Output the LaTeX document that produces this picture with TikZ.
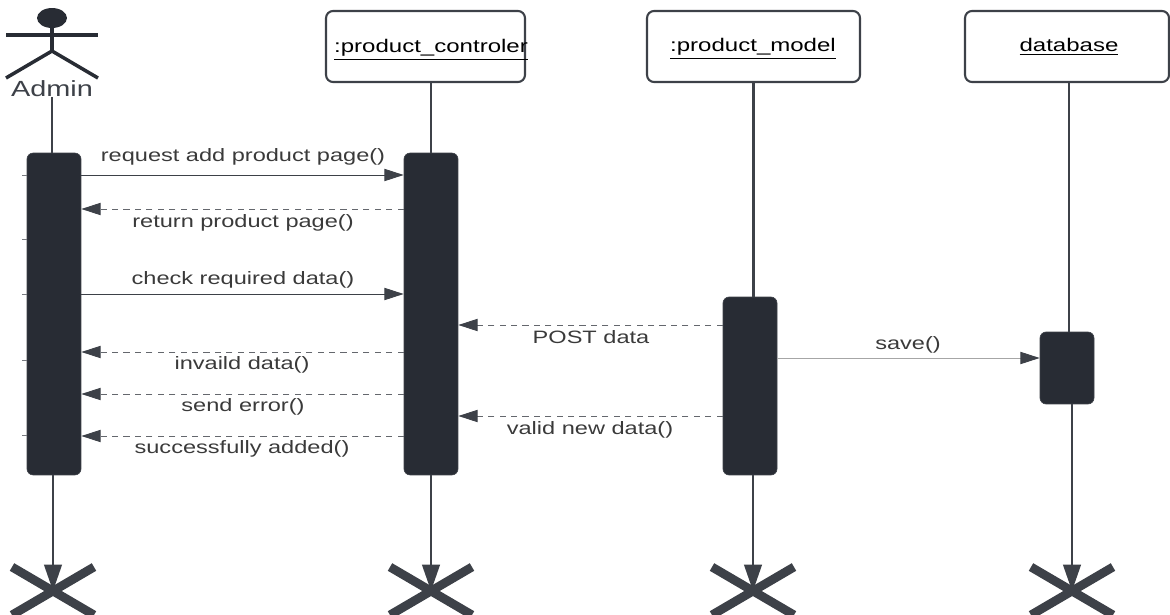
\documentclass[tikz,border=0pt]{standalone}
\usepackage{fontspec}
\setmainfont[FakeStretch=1.315]{Liberation Sans}
\usepackage{xcolor}
\usetikzlibrary{arrows.meta,shapes.geometric}
\definecolor{barcol}{HTML}{282C34}
\definecolor{linecol}{HTML}{3D4148}
\definecolor{txtcol}{HTML}{3A3A3A}
\tikzset{
  objbox/.style={draw=linecol,line width=1.2pt,fill=white,rounded corners=4pt,inner sep=0pt},
  objtxt/.style={text=black,inner sep=0pt,font=\fontsize{10.4}{12}\selectfont},
  actbar/.style={draw=linecol,fill=barcol,rounded corners=3.5pt,minimum width=1.08cm,inner sep=0pt},
  lifeline/.style={draw=linecol,line width=1.4pt},
  msg/.style={draw=linecol,line width=0.5pt,-{Triangle[length=11pt,width=7pt,color=linecol]}},
  retmsg/.style={msg,draw=linecol!80,dash pattern=on 3.5pt off 3pt},
  msgtxt/.style={text=txtcol,inner sep=0pt,font=\fontsize{10.2}{12}\selectfont},
  endcross/.style={draw=linecol,line width=5pt},
  stick/.style={draw=barcol,line width=2pt}
}
\begin{document}
\begin{tikzpicture}[x=0.02cm,y=-0.02cm]
\useasboundingbox (0,0) rectangle (1170,615);
\clip (0,0) rectangle (1170,615);

%objects
\node [objbox,minimum width=3.98cm,minimum height=1.42cm] (ctrlbox) at (425.5,46.5) {};
\node [objtxt] (ctrllabel) at (431,50) {\underline{:product\_controler}};
\node [objbox,minimum width=4.26cm,minimum height=1.42cm] (modelbox) at (753.5,46.5) {};
\node [objtxt] (modellabel) at (753,49) {\underline{:product\_model}};
\node [objbox,minimum width=4.08cm,minimum height=1.42cm] (dbbox) at (1067,46.5) {};
\node [objtxt] (dblabel) at (1069,47) {\underline{database}};

%activation bars
\node [actbar,minimum height=6.44cm] (adminbar) at (54,314) {};
\node [actbar,minimum height=6.44cm] (ctrlbar) at (431,314) {};
\node [actbar,minimum height=3.56cm] (modelbar) at (750,386) {};
\node [actbar,minimum height=1.44cm] (dbbar) at (1067,368) {};

%actor
\node [fill=barcol,ellipse,minimum width=0.6cm,minimum height=0.4cm,inner sep=0pt] (adminhead) at (52,18) {};
\coordinate (neck) at (52,51);
\coordinate (armleft) at (6,35);
\coordinate (armright) at (98,35);
\coordinate (legleft) at (6,78);
\coordinate (legright) at (98,78);
\draw [stick] (adminhead.south) -- (neck);
\draw [stick] (armleft) -- (armright);
\draw [stick] (legleft) -- (neck) -- (legright);
\node [msgtxt,text=linecol,font=\fontsize{12.5}{14}\selectfont] (adminlabel) at (52,89) {Admin};

%crosses
\foreach \cname/\cx in {adminx/53,ctrlx/431,modelx/753,dbx/1072}{
  \coordinate (\cname) at (\cx,591);
  \draw [endcross] ([shift={(-41,-24)}]\cname) -- ([shift={(41,24)}]\cname);
  \draw [endcross] ([shift={(-41,24)}]\cname) -- ([shift={(41,-24)}]\cname);
}

%lifelines
\coordinate (admintop) at (52,97);
\draw [lifeline] (admintop) -- (adminbar.north -| admintop);
\draw [lifeline] (ctrlbox.south -| ctrlbar) -- (ctrlbar.north);
\draw [lifeline] (modelbox.south) -- (modelbar.north -| modelbox);
\draw [lifeline] (dbbox.south -| 1069,0) -- (dbbar.north -| 1069,0);

%lifelines to the crosses
\draw [lifeline,-{Triangle[length=15pt,width=10pt]}] (adminbar.south -| adminx) -- (adminx);
\draw [lifeline,-{Triangle[length=15pt,width=10pt]}] (ctrlbar.south) -- (ctrlx);
\draw [lifeline,-{Triangle[length=15pt,width=10pt]}] (modelbar.south -| modelx) -- (modelx);
\draw [lifeline,-{Triangle[length=15pt,width=10pt]}] (dbbar.south -| dbx) -- (dbx);

%ticks
\foreach \ty in {175,239,294,360,435}{
  \draw [draw=linecol!70,line width=0.4pt] (22,\ty) -- (adminbar.west |- 0,\ty);
}

%messages
\draw [msg] (adminbar.east |- 0,175) -- (ctrlbar.west |- 0,175);
\node [msgtxt] (m1) at (243,157) {request add product page()};
\draw [retmsg] (ctrlbar.west |- 0,209) -- (adminbar.east |- 0,209);
\node [msgtxt] (m2) at (243,223) {return product page()};
\draw [msg] (adminbar.east |- 0,294) -- (ctrlbar.west |- 0,294);
\node [msgtxt] (m3) at (243,280) {check required data()};
\draw [retmsg] (modelbar.west |- 0,325) -- (ctrlbar.east |- 0,325);
\node [msgtxt] (m4) at (591,337) {POST data};
\draw [retmsg] (ctrlbar.west |- 0,352) -- (adminbar.east |- 0,352);
\node [msgtxt] (m5) at (242,365) {invaild data()};
\draw [msg,draw=gray!70] (modelbar.east |- 0,358) -- (dbbar.west |- 0,358);
\node [msgtxt] (m6) at (908,345) {save()};
\draw [retmsg] (ctrlbar.west |- 0,394) -- (adminbar.east |- 0,394);
\node [msgtxt] (m7) at (243,407) {send error()};
\draw [retmsg] (modelbar.west |- 0,416) -- (ctrlbar.east |- 0,416);
\node [msgtxt] (m8) at (590,430) {valid new data()};
\draw [retmsg] (ctrlbar.west |- 0,436) -- (adminbar.east |- 0,436);
\node [msgtxt] (m9) at (242,449) {successfully added()};
\end{tikzpicture}
\end{document}
